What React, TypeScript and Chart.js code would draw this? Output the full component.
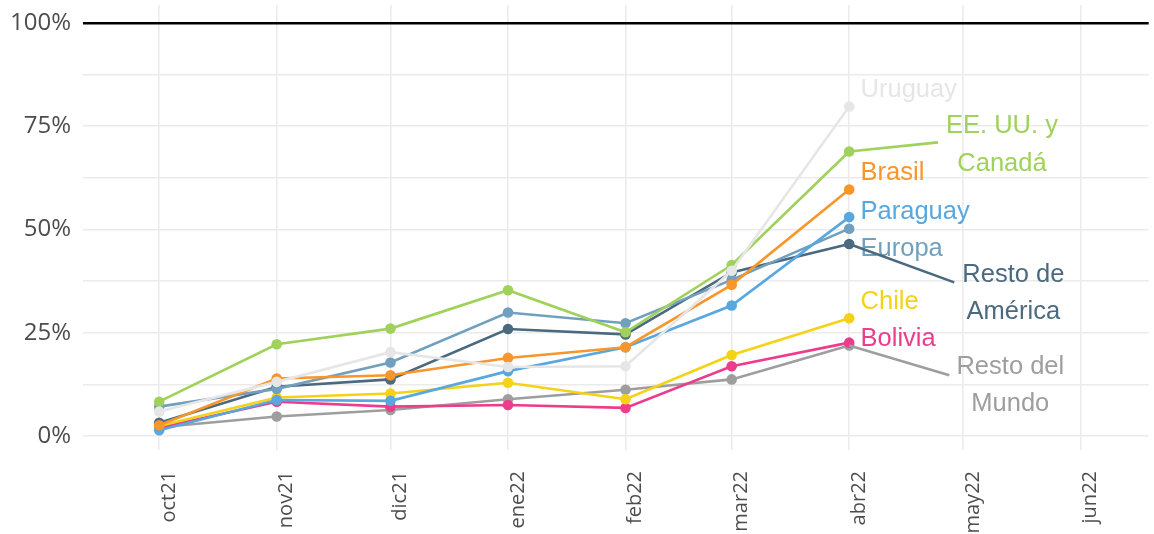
import React, { useEffect, useRef } from 'react';
import { Chart, registerables } from 'chart.js';

Chart.register(...registerables);

// ---- data ----
const monthLabels = ['oct21', 'nov21', 'dic21', 'ene22', 'feb22', 'mar22', 'abr22', 'may22', 'jun22'];
const monthDates = ['2021-10-01', '2021-11-01', '2021-12-01', '2022-01-01', '2022-02-01', '2022-03-01', '2022-04-01', '2022-05-01', '2022-06-01'];

const uruguay = [5.9, 13.1, 20.3, 16.7, 16.9, 40.0, 79.8];
const eeuuCanada = [8.3, 22.2, 26.0, 35.3, 25.1, 41.4, 68.9];
const brasil = [2.6, 13.9, 14.7, 18.9, 21.5, 36.6, 59.7];
const paraguay = [1.4, 8.7, 8.5, 15.7, 21.5, 31.6, 53.0];
const europa = [7.1, 11.4, 17.8, 29.9, 27.3, 37.8, 50.2];
const restoAmerica = [3.2, 11.9, 13.7, 25.9, 24.6, 39.6, 46.5];
const chile = [2.4, 9.3, 10.3, 12.9, 8.9, 19.6, 28.5];
const bolivia = [2.0, 8.3, 7.1, 7.5, 6.8, 16.9, 22.6];
const restoMundo = [2.1, 4.7, 6.3, 8.9, 11.2, 13.7, 21.9];

const yTickValues = [0, 12.5, 25, 37.5, 50, 62.5, 75, 87.5, 100];

// ---- helpers ----
const DAY = 86400000;
const origin = Date.parse(monthDates[0] + 'T00:00:00Z');
const monthDays = monthDates.map((d) => Math.round((Date.parse(d + 'T00:00:00Z') - origin) / DAY));

const toPoints = (vals: number[]) => vals.map((v, i) => ({ x: monthDays[i], y: v }));

const series = [
  { name: 'Uruguay', values: uruguay, color: '#e6e6e6' },
  { name: 'EE. UU. y Canadá', values: eeuuCanada, color: '#9fd15b' },
  { name: 'Brasil', values: brasil, color: '#f7962a' },
  { name: 'Paraguay', values: paraguay, color: '#59a7de' },
  { name: 'Europa', values: europa, color: '#71a0bf' },
  { name: 'Resto de América', values: restoAmerica, color: '#4b6a80' },
  { name: 'Chile', values: chile, color: '#f5d215' },
  { name: 'Bolivia', values: bolivia, color: '#ec3d8d' },
  { name: 'Resto del Mundo', values: restoMundo, color: '#9e9e9e' },
];

// label placement in data units (day offset, percent)
type LabelCfg = {
  series: number;
  lines: string[];
  x: number;
  y: number[];
  align: CanvasTextAlign;
  leader?: { x: number; y: number };
};

const labelCfgs: LabelCfg[] = [
  { series: 0, lines: ['Uruguay'], x: 185, y: [84.4], align: 'left' },
  { series: 1, lines: ['EE. UU. y', 'Canadá'], x: 222.3, y: [75.5, 66.5], align: 'center', leader: { x: 205.4, y: 71.1 } },
  { series: 2, lines: ['Brasil'], x: 185, y: [64.1], align: 'left' },
  { series: 3, lines: ['Paraguay'], x: 185, y: [54.8], align: 'left' },
  { series: 4, lines: ['Europa'], x: 185, y: [45.9], align: 'left' },
  { series: 5, lines: ['Resto de', 'América'], x: 225.3, y: [39.5, 30.5], align: 'center', leader: { x: 209.7, y: 37.2 } },
  { series: 6, lines: ['Chile'], x: 185, y: [33.0], align: 'left' },
  { series: 7, lines: ['Bolivia'], x: 185, y: [23.9], align: 'left' },
  { series: 8, lines: ['Resto del', 'Mundo'], x: 224.5, y: [17.3, 8.2], align: 'center', leader: { x: 208.4, y: 14.7 } },
];

const LABEL_FONT_SIZE = 25.5;

const labelPlugin = {
  id: 'seriesLabels',
  afterDatasetsDraw(chart: any) {
    const ctx = chart.ctx as CanvasRenderingContext2D;
    const xs = chart.scales.x;
    const ys = chart.scales.y;
    ctx.save();
    labelCfgs.forEach((cfg) => {
      const s = series[cfg.series];
      const last = s.values.length - 1;
      const px = xs.getPixelForValue(monthDays[last]);
      const py = ys.getPixelForValue(s.values[last]);
      if (cfg.leader) {
        ctx.beginPath();
        ctx.strokeStyle = s.color;
        ctx.lineWidth = 2.6;
        ctx.moveTo(px, py);
        ctx.lineTo(xs.getPixelForValue(cfg.leader.x), ys.getPixelForValue(cfg.leader.y));
        ctx.stroke();
      }
      ctx.fillStyle = s.color;
      ctx.font = `${LABEL_FONT_SIZE}px "Liberation Sans", Arial, sans-serif`;
      ctx.textAlign = cfg.align;
      ctx.textBaseline = 'alphabetic';
      const tx = xs.getPixelForValue(cfg.x);
      cfg.lines.forEach((line, i) => {
        const ty = ys.getPixelForValue(cfg.y[i]) + LABEL_FONT_SIZE * 0.716 / 2;
        ctx.fillText(line, tx, ty);
      });
    });
    ctx.restore();
  },
};

export default function App() {
  const canvasRef = useRef<HTMLCanvasElement | null>(null);

  useEffect(() => {
    const canvas = canvasRef.current;
    if (!canvas) return;
    const chart = new Chart(canvas, {
      type: 'line',
      data: {
        datasets: series.map((s) => ({
          label: s.name,
          data: toPoints(s.values),
          borderColor: s.color,
          backgroundColor: s.color,
          pointBackgroundColor: s.color,
          pointBorderColor: s.color,
          pointBorderWidth: 0,
          pointRadius: 5.3,
          borderWidth: 2.6,
          tension: 0,
          fill: false,
        })),
      },
      options: {
        animation: false,
        responsive: false,
        devicePixelRatio: 1,
        layout: { padding: { left: 0, right: 1, top: 3, bottom: 0 } },
        plugins: {
          legend: { display: false },
          tooltip: { enabled: false },
        },
        scales: {
          x: {
            type: 'linear',
            min: -20.1,
            max: 261,
            afterBuildTicks: (scale: any) => {
              scale.ticks = monthDays.map((v) => ({ value: v }));
            },
            afterFit: (scale: any) => {
              scale.height = 84;
              scale.paddingLeft = 0;
              scale.paddingRight = 0;
            },
            grid: { color: '#ebebeb', lineWidth: 1.6, drawTicks: false },
            border: { display: false },
            ticks: {
              autoSkip: false,
              minRotation: 90,
              maxRotation: 90,
              padding: 21,
              labelOffset: 10,
              color: '#4d4d4d',
              font: { family: '"Open Sans", sans-serif', size: 20 },
              callback: (_v: any, i: number) => monthLabels[i],
            },
          },
          y: {
            type: 'linear',
            min: -3.4,
            max: 104.3,
            afterBuildTicks: (scale: any) => {
              scale.ticks = yTickValues.map((v) => ({ value: v }));
            },
            afterFit: (scale: any) => {
              scale.width = 83;
              scale.paddingTop = 0;
              scale.paddingBottom = 0;
            },
            grid: {
              color: (c: any) => (c.tick && c.tick.value === 100 ? '#000000' : '#ebebeb'),
              lineWidth: (c: any) => (c.tick && c.tick.value === 100 ? 2.5 : 1.6),
              drawTicks: false,
            },
            border: { display: false },
            ticks: {
              padding: 12,
              color: '#4d4d4d',
              font: { family: '"Open Sans", sans-serif', size: 24 },
              callback: (v: any) => (Number(v) % 25 === 0 ? `${v}%` : ''),
            },
          },
        },
      },
      plugins: [labelPlugin],
    });
    return () => chart.destroy();
  }, []);

  return (
    <div style={{ position: 'absolute', left: 0, top: 0, width: 1154, height: 534, background: '#ffffff' }}>
      <canvas ref={canvasRef} width={1154} height={534} style={{ display: 'block', width: 1154, height: 534 }} />
    </div>
  );
}
